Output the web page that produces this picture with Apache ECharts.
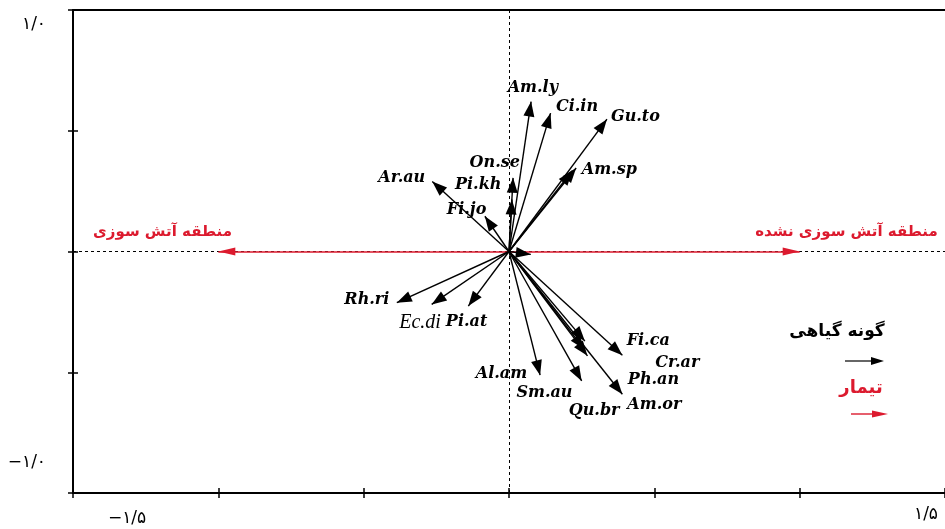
<!DOCTYPE html>
<html>
<head>
<meta charset="utf-8">
<script src="https://cdn.jsdelivr.net/npm/echarts@6/dist/echarts.min.js"></script>
<style>
html,body{margin:0;padding:0;background:#fff;}
#chart{width:945px;height:529px;}
</style>
</head>
<body>
<div id="chart"></div>
<script>
// ---- data ----
const speciesNames = ['Am.ly','Ci.in','Gu.to','Am.sp','On.se','Pi.kh','Ar.au','Fi.jo','Rh.ri','Ec.di','Pi.at','Al.am','Sm.au','Qu.br','Cr.ar','Ph.an','Fi.ca','Am.or'];
const speciesX = [0.076, 0.143, 0.337, 0.231, 0.014, 0.010, -0.264, -0.083, -0.386, -0.266, -0.140, 0.107, 0.261, 0.250, 0.259, 0.270, 0.390, 0.390];
const speciesY = [0.621, 0.573, 0.548, 0.346, 0.305, 0.215, 0.290, 0.146, -0.212, -0.219, -0.226, -0.512, -0.371, -0.536, -0.405, -0.432, -0.430, -0.591];
const speciesLabelX = [0.082, 0.234, 0.435, 0.345, -0.049, -0.106, -0.369, -0.146, -0.489, -0.306, -0.146, -0.026, 0.122, 0.293, 0.579, 0.497, 0.479, 0.500];
const speciesLabelY = [0.676, 0.600, 0.558, 0.339, 0.368, 0.277, 0.305, 0.174, -0.202, -0.293, -0.293, -0.508, -0.584, -0.661, -0.463, -0.533, -0.372, -0.636];
const extraArrowX = [0.218, 0.075];
const extraArrowY = [0.335, -0.012];

const treatNames = ['منطقه آتش سوزی', 'منطقه آتش سوزی نشده'];
const treatX = [-1.0, 1.0];
const treatY = [0, 0];
const treatLabelX = [-1.192, 1.161];
const treatLabelY = [0.079, 0.079];

const xEndLabels = ['−۱/۵', '۱/۵'];
const yEndLabels = ['−۱/۰', '۱/۰'];
const legendNames = ['گونه گیاهی', 'تیمار'];

// ---- styles ----
const RED = '#dc1a2e';
const blackHead = 'path://M0,0 M30,30 M15,15 L20.5,30 L9.5,30 Z';
const redHead = 'path://M0,0 M34,34 M17,17 L21,34 L13,34 Z';

const speciesArrows = speciesNames.map((n, i) => ({ coords: [[0, 0], [speciesX[i], speciesY[i]]] }))
  .concat(extraArrowX.map((x, i) => ({ coords: [[0, 0], [x, extraArrowY[i]]] })));
const treatArrows = treatNames.map((n, i) => ({ coords: [[0, 0], [treatX[i], treatY[i]]] }));

const speciesLabels = speciesNames.map((n, i) => ({
  name: n, value: [speciesLabelX[i], speciesLabelY[i]],
  label: n === 'Ec.di' ? { fontFamily: 'Liberation Serif', fontWeight: 'normal', fontStyle: 'italic', fontSize: 20 } : undefined
}));
const treatLabels = treatNames.map((n, i) => ({ name: n, value: [treatLabelX[i], treatLabelY[i]] }));

const X_MIN = -1.5, X_MAX = 1.5, Y_MIN = -1, Y_MAX = 1;

const chart = echarts.init(document.getElementById('chart'), null, { renderer: 'canvas' });

const baseX = { type: 'value', min: X_MIN, max: X_MAX, interval: 0.5, splitLine: { show: false } };
const baseY = { type: 'value', min: Y_MIN, max: Y_MAX, interval: 0.5, splitLine: { show: false } };

chart.setOption({
  animation: false,
  backgroundColor: '#fff',
  grid: { left: 73, right: -4, top: 10, bottom: 36, containLabel: false },
  xAxis: [
    Object.assign({}, baseX, {
      position: 'bottom',
      axisLine: { show: true, onZero: false, lineStyle: { color: '#000', width: 2 } },
      axisTick: { show: true, inside: false, length: 5, lineStyle: { color: '#000', width: 1.5 } },
      axisLabel: {
        show: true, margin: 13, showMinLabel: true, showMaxLabel: true,
        formatter: v => v === X_MIN ? '{a|' + xEndLabels[0] + '}' : (v === X_MAX ? '{b|' + xEndLabels[1] + '}' : ''),
        rich: {
          a: { fontFamily: 'DejaVu Sans', fontSize: 17, color: '#000', padding: [4, 0, 0, 108] },
          b: { fontFamily: 'DejaVu Sans', fontSize: 17, color: '#000', padding: [0, 38, 0, 0] }
        }
      }
    }),
    Object.assign({}, baseX, {
      position: 'bottom',
      axisLine: { show: false, onZero: false },
      axisTick: { show: true, inside: true, length: 5, lineStyle: { color: '#000', width: 1.5 } },
      axisLabel: { show: false }
    }),
    Object.assign({}, baseX, {
      position: 'top',
      axisLine: { show: true, onZero: false, lineStyle: { color: '#000', width: 2 } },
      axisTick: { show: false },
      axisLabel: { show: false }
    })
  ],
  yAxis: [
    Object.assign({}, baseY, {
      position: 'left',
      axisLine: { show: true, onZero: false, lineStyle: { color: '#000', width: 2 } },
      axisTick: { show: true, inside: false, length: 5, lineStyle: { color: '#000', width: 1.5 } },
      axisLabel: {
        show: true, margin: 27, showMinLabel: true, showMaxLabel: true,
        formatter: v => v === Y_MIN ? '{d|' + yEndLabels[0] + '}' : (v === Y_MAX ? '{c|' + yEndLabels[1] + '}' : ''),
        rich: {
          c: { fontFamily: 'DejaVu Sans', fontSize: 17, color: '#000', padding: [30, 0, 0, 0] },
          d: { fontFamily: 'DejaVu Sans', fontSize: 17, color: '#000', padding: [0, 0, 60, 0] }
        }
      }
    }),
    Object.assign({}, baseY, {
      position: 'left',
      axisLine: { show: false, onZero: false },
      axisTick: { show: true, inside: true, length: 5, lineStyle: { color: '#000', width: 1.5 } },
      axisLabel: { show: false }
    })
  ],
  series: [
    {
      type: 'lines', coordinateSystem: 'cartesian2d', xAxisIndex: 0, yAxisIndex: 0, z: 1,
      silent: true,
      lineStyle: { color: '#000', width: 1, type: [3, 3], opacity: 1 },
      data: [
        { coords: [[X_MIN, 0], [X_MAX, 0]] },
        { coords: [[0, Y_MIN], [0, Y_MAX]] }
      ]
    },
    {
      type: 'lines', coordinateSystem: 'cartesian2d', xAxisIndex: 0, yAxisIndex: 0, z: 3,
      symbol: ['none', redHead], symbolSize: [0, 34],
      lineStyle: { color: RED, width: 1.5, opacity: 1 },
      itemStyle: { color: RED },
      data: treatArrows
    },
    {
      type: 'lines', coordinateSystem: 'cartesian2d', xAxisIndex: 0, yAxisIndex: 0, z: 4,
      symbol: ['none', blackHead], symbolSize: [0, 30],
      lineStyle: { color: '#000', width: 1.4, opacity: 1 },
      itemStyle: { color: '#000' },
      data: speciesArrows
    },
    {
      type: 'scatter', xAxisIndex: 0, yAxisIndex: 0, z: 5,
      symbolSize: 1, itemStyle: { color: 'rgba(0,0,0,0)', opacity: 1 },
      label: {
        show: true, position: 'inside', formatter: p => p.name,
        fontFamily: 'DejaVu Serif', fontWeight: 'bold', fontStyle: 'italic', fontSize: 16,
        color: '#000', textBorderWidth: 0, opacity: 1
      },
      data: speciesLabels
    },
    {
      type: 'scatter', xAxisIndex: 0, yAxisIndex: 0, z: 5,
      symbolSize: 1, itemStyle: { color: 'rgba(0,0,0,0)', opacity: 1 },
      label: {
        show: true, position: 'inside', formatter: p => p.name,
        fontFamily: 'DejaVu Sans', fontWeight: 'bold', fontSize: 15, color: RED, textBorderWidth: 0, opacity: 1
      },
      data: treatLabels
    }
  ],
  graphic: [
    { type: 'text', x: 837, y: 332, style: { text: legendNames[0], font: 'bold 17px "DejaVu Sans"', fill: '#000', align: 'center', verticalAlign: 'middle' } },
    { type: 'line', shape: { x1: 845, y1: 361, x2: 872, y2: 361 }, style: { stroke: '#000', lineWidth: 1.2 } },
    { type: 'polygon', shape: { points: [[871, 357], [884, 361], [871, 365]] }, style: { fill: '#000' } },
    { type: 'text', x: 861, y: 388, style: { text: legendNames[1], font: 'bold 18px "DejaVu Sans"', fill: RED, align: 'center', verticalAlign: 'middle' } },
    { type: 'line', shape: { x1: 851, y1: 414, x2: 874, y2: 414 }, style: { stroke: RED, lineWidth: 1.4 } },
    { type: 'polygon', shape: { points: [[872, 410.5], [888, 414], [872, 417.5]] }, style: { fill: RED } }
  ]
});
</script>
</body>
</html>
